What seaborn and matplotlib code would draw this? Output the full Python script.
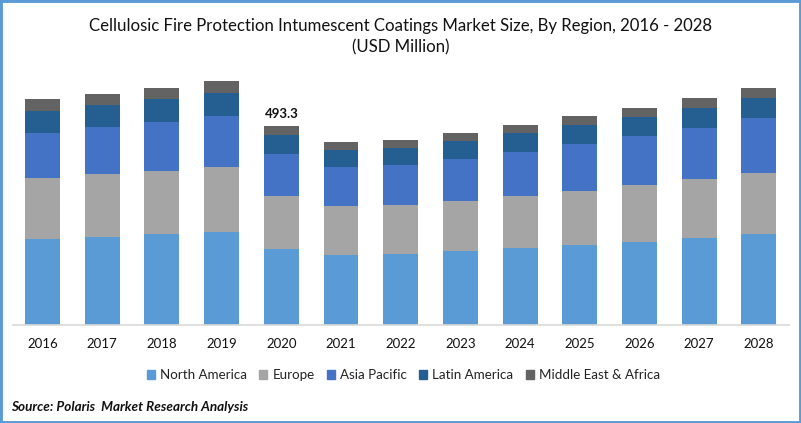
import matplotlib
matplotlib.use("Agg")
import matplotlib.pyplot as plt
from matplotlib.patches import Patch, Rectangle
import numpy as np
import pandas as pd
import seaborn as sns

years = ["2016", "2017", "2018", "2019", "2020", "2021", "2022", "2023", "2024", "2025", "2026", "2027", "2028"]
north_america = [213.2, 218.2, 225.6, 230.5, 188.4, 173.5, 176.0, 183.4, 190.9, 198.3, 205.8, 215.7, 225.6]
europe = [151.2, 156.2, 156.2, 161.1, 131.4, 121.5, 121.5, 124.0, 128.9, 133.9, 141.3, 146.3, 151.2]
asia_pacific = [111.6, 116.5, 121.5, 126.4, 104.1, 96.7, 99.2, 104.1, 109.1, 116.5, 121.5, 126.4, 136.3]
latin_america = [54.5, 54.5, 57.0, 57.0, 47.1, 42.1, 42.1, 44.6, 47.1, 47.1, 47.1, 49.6, 49.6]
middle_east = [29.7, 27.3, 27.3, 29.7, 22.3, 19.8, 19.8, 19.8, 19.8, 22.3, 22.3, 24.8, 24.8]

regions = ["North America", "Europe", "Asia Pacific", "Latin America", "Middle East & Africa"]
series = [north_america, europe, asia_pacific, latin_america, middle_east]
colors = ["#5B9BD5", "#A5A5A5", "#4472C4", "#255E91", "#636363"]

sns.set_theme(style="white")
plt.rcParams["font.family"] = ["Lato", "DejaVu Sans"]

fig = plt.figure(figsize=(8.01, 4.23), dpi=100)
ax = fig.add_axes([12.7 / 801, 1 - 325 / 423, 776 / 801, 255 / 423])

# stacked bars, one barplot call per region
bottom = np.zeros(len(years))
for name, values, color in zip(regions, series, colors):
    df = pd.DataFrame({"year": years, "value": values})
    sns.barplot(data=df, x="year", y="value", color=color, width=0.586, bottom=bottom,
                saturation=1, errorbar=None, linewidth=0, ax=ax)
    bottom += np.array(values)

ax.set_ylim(0, 632)
ax.set_xlim(-0.5, len(years) - 0.5)
ax.set_xlabel("")
ax.set_ylabel("")
ax.set_yticks([])
for side in ["top", "left", "right"]:
    ax.spines[side].set_visible(False)
ax.spines["bottom"].set_color("#D9D9D9")
ax.spines["bottom"].set_linewidth(1.2)
ax.tick_params(axis="x", length=0, pad=9, labelsize=9.5, labelcolor="#111111")

ax.annotate("493.3", (4, bottom[4]), xytext=(0, 4), textcoords="offset points", ha="center", va="bottom",
            fontsize=9.5, fontweight="bold", color="#111111")

fig.text(400.5 / 801, 1 - 26 / 423, "Cellulosic Fire Protection Intumescent Coatings Market Size, By Region, 2016 - 2028",
         ha="center", va="center", fontsize=12.1, color="#111111")
fig.text(400.5 / 801, 1 - 47.5 / 423, "(USD Million)", ha="center", va="center", fontsize=12.1, color="#111111")

handles = [Patch(color=c, label=r) for r, c in zip(regions, colors)]
fig.legend(handles=handles, loc="center", bbox_to_anchor=(403.5 / 801, 1 - 375 / 423), ncol=5, frameon=False,
           fontsize=9.6, handlelength=0.6, handleheight=0.6, handletextpad=0.4, columnspacing=0.9, labelcolor="#222222")

fig.text(11 / 801, 1 - 407 / 423, "Source: Polaris  Market Research Analysis", ha="left", va="center",
         fontsize=9.7, fontweight="bold", fontstyle="italic", color="#111111")

# blue frame around the whole picture
fig.add_artist(Rectangle((0, 0), 1, 1, transform=fig.transFigure, fill=False, edgecolor="#5B9BD5", linewidth=3.5))

fig.savefig("out.png", dpi=100)
